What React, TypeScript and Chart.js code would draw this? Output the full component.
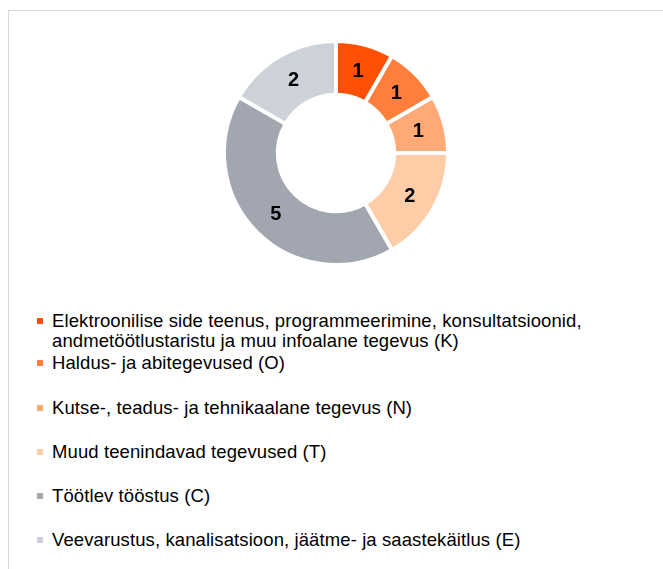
import React, { useEffect, useRef } from "react";
import { Chart, registerables } from "chart.js";

Chart.register(...registerables);

const categories = [
  "Elektroonilise side teenus, programmeerimine, konsultatsioonid, andmetöötlustaristu ja muu infoalane tegevus (K)",
  "Haldus- ja abitegevused (O)",
  "Kutse-, teadus- ja tehnikaalane tegevus (N)",
  "Muud teenindavad tegevused (T)",
  "Töötlev tööstus (C)",
  "Veevarustus, kanalisatsioon, jäätme- ja saastekäitlus (E)",
];
const values = [1, 1, 1, 2, 5, 2];
const colors = ["#FF5005", "#FF7E3B", "#FFA977", "#FFCCA8", "#A1A6B1", "#CDD1D8"];

const FONT = '"Liberation Sans", Arial, sans-serif';
const legendTops = [311, 353, 398, 442, 486, 530];

const labelPlugin = {
  id: "sliceLabels",
  afterDatasetsDraw(chart: any) {
    const ctx = chart.ctx;
    const meta = chart.getDatasetMeta(0);
    ctx.save();
    ctx.font = `bold 20px ${FONT}`;
    ctx.fillStyle = "#000";
    ctx.textAlign = "center";
    ctx.textBaseline = "middle";
    meta.data.forEach((arc: any, i: number) => {
      const p = arc.tooltipPosition();
      ctx.fillText(String(chart.data.datasets[0].data[i]), p.x, p.y + 1);
    });
    ctx.restore();
  },
};

export default function App() {
  const ref = useRef<HTMLCanvasElement | null>(null);
  useEffect(() => {
    if (!ref.current) return;
    const chart = new Chart(ref.current, {
      type: "doughnut",
      data: {
        labels: categories,
        datasets: [
          {
            data: values,
            backgroundColor: colors,
            borderColor: "#ffffff",
            borderWidth: 4,
          },
        ],
      },
      options: {
        animation: false,
        responsive: false,
        maintainAspectRatio: false,
        cutout: "52%",
        layout: { padding: 6 },
        plugins: {
          legend: { display: false },
          tooltip: { enabled: false },
        },
      },
      plugins: [labelPlugin],
    });
    return () => chart.destroy();
  }, []);

  return (
    <div
      style={{
        position: "fixed",
        left: 0,
        top: 0,
        width: 663,
        height: 569,
        overflow: "hidden",
        background: "#fff",
        fontFamily: FONT,
      }}
    >
      <div
        style={{
          position: "absolute",
          left: 8,
          top: 10,
          width: 700,
          height: 600,
          border: "1px solid #D9D9D9",
        }}
      />
      <canvas
        ref={ref}
        width={240}
        height={240}
        style={{ position: "absolute", left: 216, top: 33, width: 240, height: 240 }}
      />
      {categories.map((c, i) => (
        <div
          key={c}
          style={{
            position: "absolute",
            left: 37,
            top: legendTops[i],
            width: 620,
            display: "flex",
            alignItems: "flex-start",
          }}
        >
          <span
            style={{
              display: "inline-block",
              width: 6,
              height: 6,
              marginTop: 7,
              background: colors[i],
              flex: "none",
            }}
          />
          <span
            style={{
              marginLeft: 9,
              fontSize: 18.5,
              letterSpacing: 0.1,
              lineHeight: "20px",
              color: "#000",
              width: 590,
            }}
          >
            {c}
          </span>
        </div>
      ))}
    </div>
  );
}
